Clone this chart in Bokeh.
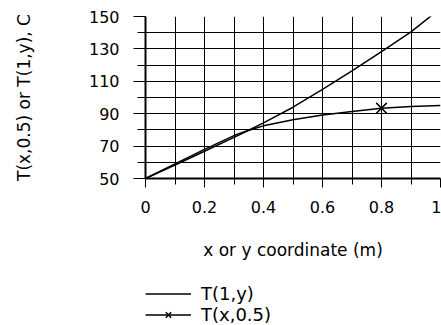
from bokeh.plotting import figure
from bokeh.layouts import column
from bokeh.models import FixedTicker, Range1d, Legend, LegendItem, ColumnDataSource
from bokeh.embed import file_html
from bokeh.resources import INLINE

# Data
coord = [0.0, 0.1, 0.2, 0.3, 0.35, 0.4, 0.5, 0.6, 0.7, 0.8, 0.9, 1.0]
t_1y = [50.0, 58.3, 66.8, 75.4, 79.8, 84.3, 94.0, 105.0, 116.5, 128.3, 140.5, 155.0]
t_x05 = [50.0, 59.0, 68.0, 76.5, 79.8, 82.5, 86.3, 89.2, 91.4, 93.4, 94.4, 95.0]
marker_index = 9  # the single "x" marker sits on x = 0.8

x_major = [0, 0.2, 0.4, 0.6, 0.8, 1.0]
x_minor = [0.1, 0.3, 0.5, 0.7, 0.9]
y_major = [50, 70, 90, 110, 130, 150]
y_minor = [60, 80, 100, 120, 140]
series_labels = ["T(1,y)", "T(x,0.5)"]

FONT = "DejaVu Sans"
H_MAIN = 280
H_LEG = 45

p = figure(width=441, height=H_MAIN, output_backend="svg", toolbar_location=None,
           x_range=Range1d(0, 1), y_range=Range1d(50, 150),
           min_border_left=145, min_border_right=1, min_border_top=16,
           min_border_bottom=H_MAIN - 178)
p.outline_line_color = None
p.background_fill_color = "white"
p.border_fill_color = "white"

# grid
for g, maj, mnr in ((p.xgrid, x_major, x_minor), (p.ygrid, y_major, y_minor)):
    g.ticker = FixedTicker(ticks=maj, minor_ticks=mnr)
    g.grid_line_color = "black"
    g.grid_line_width = 1
    g.minor_grid_line_color = "black"
    g.minor_grid_line_width = 1

# axes
xa = p.xaxis[0]
ya = p.yaxis[0]
xa.ticker = FixedTicker(ticks=x_major, minor_ticks=x_minor)
ya.ticker = FixedTicker(ticks=y_major, minor_ticks=y_minor)
xa.major_label_overrides = {0: "0", 1: "1"}
for ax in (xa, ya):
    ax.axis_line_color = "black"
    ax.axis_line_width = 2
    ax.major_tick_line_color = "black"
    ax.minor_tick_line_color = "black"
    ax.major_tick_in = 0
    ax.minor_tick_in = 0
    ax.major_label_text_font = FONT
    ax.major_label_text_font_size = "16px"
    ax.major_label_text_color = "black"
    ax.axis_label_text_font = FONT
    ax.axis_label_text_font_size = "17px"
    ax.axis_label_text_font_style = "normal"
    ax.axis_label_text_color = "black"
xa.major_tick_out = 9
xa.minor_tick_out = 6
ya.major_tick_out = 12
ya.minor_tick_out = 8
xa.major_label_standoff = 13
ya.major_label_standoff = 14
xa.axis_label = "x or y coordinate (m)"
ya.axis_label = "T(x,0.5) or T(1,y), C"
xa.axis_label_standoff = 24
ya.axis_label_standoff = 52

src = ColumnDataSource(dict(x=coord, a=t_1y, b=t_x05))
msrc = ColumnDataSource(dict(x=[coord[marker_index]], y=[t_x05[marker_index]]))


def draw(fig):
    a = fig.line("x", "a", source=src, line_color="black", line_width=1.5)
    b = fig.line("x", "b", source=src, line_color="black", line_width=1.5)
    m = fig.scatter("x", "y", source=msrc, marker="x", size=15,
                    line_color="black", line_width=1.5)
    return a, b, m


draw(p)

# legend strip under the chart (its own copies of the series lie outside its range)
q = figure(width=441, height=H_LEG, output_backend="svg", toolbar_location=None,
           x_range=Range1d(10, 11), y_range=Range1d(10, 11),
           min_border=0, min_border_left=0, min_border_right=0,
           min_border_top=0, min_border_bottom=0)
q.axis.visible = False
q.grid.visible = False
q.outline_line_color = None
q.background_fill_color = "white"
q.border_fill_color = "white"
qa, qb, qm = draw(q)
legend = Legend(items=[LegendItem(label=series_labels[0], renderers=[qa]),
                       LegendItem(label=series_labels[1], renderers=[qb, qm])],
                location=(0, 0), orientation="vertical",
                label_text_font=FONT, label_text_font_size="18px",
                label_text_color="black",
                glyph_width=46, glyph_height=19, label_height=19,
                label_standoff=10, spacing=0, padding=0, margin=0,
                border_line_color=None, background_fill_alpha=0)
q.add_layout(legend, "center")

layout = column(p, q, spacing=0)
open("out.html", "w").write(file_html(layout, INLINE))
